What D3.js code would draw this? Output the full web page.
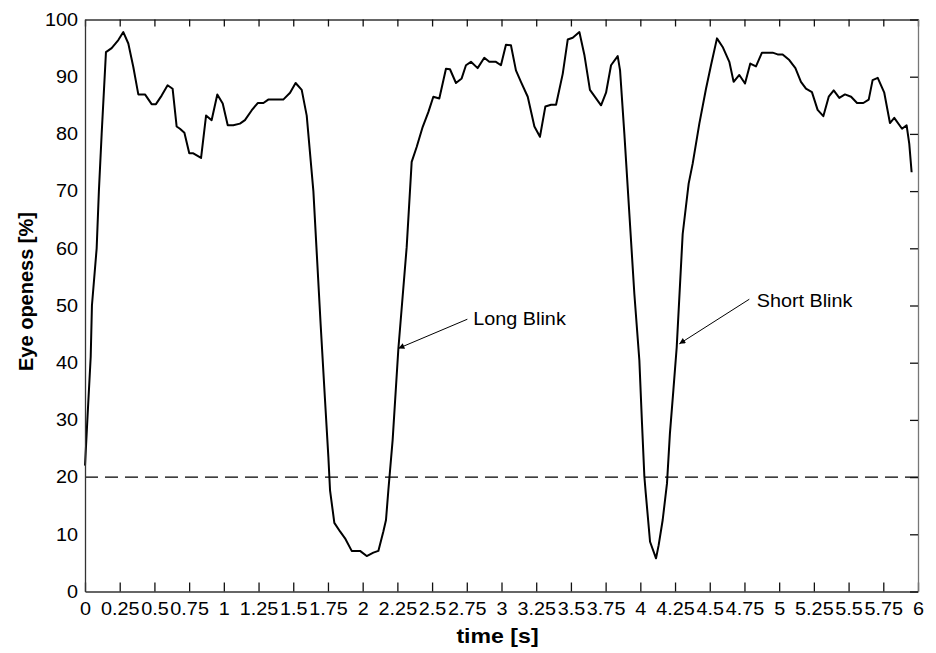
<!DOCTYPE html>
<html>
<head>
<meta charset="utf-8">
<script src="https://cdn.jsdelivr.net/npm/d3@7"></script>
<style>
  html, body { margin: 0; padding: 0; background: #fff; }
  svg { display: block; }
  text { font-family: "Liberation Sans", Arial, Helvetica, sans-serif; fill: #000; }
</style>
</head>
<body>
<svg id="chart" width="936" height="653"></svg>
<script>
// ---- data ----
const timeS = [
  0, 0.017, 0.041, 0.05, 0.084, 0.10, 0.12, 0.151, 0.192, 0.24, 0.276, 0.312, 0.348, 0.384, 0.432,
  0.48, 0.511, 0.552, 0.595, 0.631, 0.66, 0.684, 0.716, 0.751, 0.78, 0.836, 0.872, 0.912, 0.953,
  0.992, 1.028, 1.068, 1.116, 1.152, 1.2, 1.244, 1.285, 1.32, 1.428, 1.477, 1.517, 1.561, 1.597,
  1.645, 1.697, 1.729, 1.753, 1.765, 1.796, 1.837, 1.873, 1.921, 1.981, 2.029, 2.077, 2.113,
  2.149, 2.168, 2.185, 2.216, 2.257, 2.317, 2.353, 2.389, 2.432, 2.473, 2.509, 2.552, 2.6, 2.629,
  2.672, 2.713, 2.744, 2.78, 2.828, 2.876, 2.912, 2.96, 2.996, 3.032, 3.068, 3.104, 3.14, 3.189,
  3.237, 3.277, 3.316, 3.357, 3.393, 3.441, 3.477, 3.513, 3.561, 3.597, 3.637, 3.681, 3.717,
  3.753, 3.789, 3.837, 3.854, 3.885, 3.921, 3.957, 3.993, 4.012, 4.029, 4.039, 4.07, 4.113,
  4.132, 4.161, 4.192, 4.213, 4.238, 4.262, 4.305, 4.348, 4.377, 4.425, 4.473, 4.509, 4.552,
  4.593, 4.641, 4.672, 4.713, 4.754, 4.792, 4.833, 4.876, 4.953, 4.989, 5.025, 5.073, 5.117,
  5.157, 5.193, 5.236, 5.277, 5.318, 5.357, 5.393, 5.433, 5.474, 5.518, 5.561, 5.606, 5.645,
  5.673, 5.71, 5.757, 5.798, 5.829, 5.885, 5.918, 5.937, 5.954
];
const openness = [
  22, 30, 41, 50, 60, 70, 80, 94.3, 95.0, 96.4, 97.8, 95.8, 91.7, 86.9, 86.9,
  85.2, 85.2, 86.7, 88.5, 87.9, 81.3, 80.9, 80.2, 76.6, 76.6, 75.8, 83.2, 82.4, 86.9,
  85.3, 81.5, 81.5, 81.8, 82.4, 84.1, 85.4, 85.4, 86.0, 86.0, 87.2, 88.9, 87.7, 83.2,
  70, 46.8, 33.4, 23.5, 17.7, 12.0, 10.5, 9.3, 7.1, 7.1, 6.2, 6.8, 7.1,
  10.5, 12.5, 17.7, 26.5, 42.4, 60.2, 75.1, 77.7, 81.2, 83.8, 86.5, 86.2, 91.4, 91.3,
  88.9, 89.7, 92.0, 92.6, 91.5, 93.3, 92.6, 92.6, 92.0, 95.6, 95.5, 91.1, 89.1, 86.5,
  81.3, 79.5, 84.8, 85.1, 85.1, 90.5, 96.5, 96.8, 97.8, 93.8, 87.7, 86.2, 85.0,
  87.2, 92.0, 93.6, 91.1, 80.0, 66.0, 52.0, 40.4, 29.4, 20.1, 17.2, 8.7, 5.8,
  8.1, 12.5, 18.9, 27.6, 35.2, 42.7, 62.5, 71.3, 74.8, 81.8, 87.9, 92.0, 96.7,
  95.2, 92.6, 89.1, 90.3, 88.8, 92.3, 91.8, 94.2, 94.2, 93.9, 93.9, 92.9, 91.5,
  89.1, 87.9, 87.3, 84.2, 83.1, 86.5, 87.6, 86.3, 86.9, 86.5, 85.4, 85.4, 86.0,
  89.4, 89.8, 87.2, 81.9, 82.8, 80.9, 81.5, 78.3, 73.3
];
const xTicks = [0, 0.25, 0.5, 0.75, 1, 1.25, 1.5, 1.75, 2, 2.25, 2.5, 2.75, 3, 3.25, 3.5, 3.75,
                4, 4.25, 4.5, 4.75, 5, 5.25, 5.5, 5.75, 6];
const yTicks = [0, 10, 20, 30, 40, 50, 60, 70, 80, 90, 100];
const threshold = 20;
const annotLabels = ["Long Blink", "Short Blink"];
const annotTip = [[2.257, 42.5], [4.281, 43.3]];      // [time, openness] arrow tip
const annotTail = [[2.754, 47.6], [4.785, 51.1]];     // arrow tail
const annotText = [[2.797, 46.6], [4.838, 49.7]];     // text anchor (baseline)
const xTitle = "time [s]";
const yTitle = "Eye openess [%]";

// ---- layout ----
const svg = d3.select("#chart");
const L = 85, R = 918, T = 19.5, B = 591.5;
const x = d3.scaleLinear().domain([0, 6]).range([L, R]);
const y = d3.scaleLinear().domain([0, 100]).range([B, T]);
const STRETCH = 1.1; // reference glyphs are slightly wider than Liberation Sans

function widen(sel) {
  sel.each(function () {
    const w = this.getComputedTextLength();
    d3.select(this).attr("textLength", w * STRETCH).attr("lengthAdjust", "spacingAndGlyphs");
  });
}

// defs: arrowhead
svg.append("defs").append("marker")
  .attr("id", "arrow").attr("viewBox", "0 0 10 10")
  .attr("refX", 10).attr("refY", 5)
  .attr("markerWidth", 9).attr("markerHeight", 6)
  .attr("markerUnits", "userSpaceOnUse")
  .attr("orient", "auto")
  .append("path").attr("d", "M0,0 L10,5 L0,10 z").attr("fill", "#000");

// dashed threshold
svg.append("line")
  .attr("x1", x(0)).attr("x2", x(6))
  .attr("y1", y(threshold)).attr("y2", y(threshold))
  .attr("stroke", "#000").attr("stroke-width", 1.4)
  .attr("stroke-dasharray", "13,7");

// curve
const data = timeS.map((t, i) => [t, openness[i]]);
svg.append("path")
  .datum(data)
  .attr("fill", "none").attr("stroke", "#000").attr("stroke-width", 2)
  .attr("stroke-linejoin", "round")
  .attr("d", d3.line().x(d => x(d[0])).y(d => y(d[1])));

const axisColor = "#333";
const gB = svg.append("g").attr("transform", `translate(0,${B})`)
  .call(d3.axisBottom(x).tickValues(xTicks).tickSizeInner(-9).tickSizeOuter(0).tickPadding(20)
        .tickFormat(d => d3.format("~g")(d)));
gB.select(".domain").attr("stroke", axisColor).attr("stroke-width", 1.3);
gB.selectAll(".tick line").attr("stroke", "#111").attr("stroke-width", 1.3);
gB.selectAll(".tick text").attr("font-size", 18).attr("dy", 0).attr("y", 23.5)
  .attr("font-family", "Liberation Sans, Arial, sans-serif").attr("fill", "#000")
  .call(widen);

const gT = svg.append("g").attr("transform", `translate(0,${T})`)
  .call(d3.axisTop(x).tickValues(xTicks).tickSizeInner(-7).tickSizeOuter(0).tickFormat(""));
gT.select(".domain").attr("stroke", axisColor).attr("stroke-width", 1.3);
gT.selectAll(".tick line").attr("stroke", "#111").attr("stroke-width", 1.3);

const gR = svg.append("g").attr("transform", `translate(${R},0)`)
  .call(d3.axisRight(y).tickValues(yTicks).tickSizeInner(-8).tickSizeOuter(0).tickFormat(""));
gR.select(".domain").attr("stroke", "#777").attr("stroke-width", 1.3);
gR.selectAll(".tick line").attr("stroke", "#111").attr("stroke-width", 1.3);

const gL = svg.append("g").attr("transform", `translate(${L},0)`)
  .call(d3.axisLeft(y).tickValues(yTicks).tickSize(0).tickPadding(7).tickFormat(d3.format("d")));
gL.select(".domain").attr("stroke", axisColor).attr("stroke-width", 1.3);
gL.selectAll(".tick text").attr("font-size", 18)
  .attr("font-family", "Liberation Sans, Arial, sans-serif").attr("fill", "#000")
  .call(widen);

// titles
svg.append("text")
  .attr("x", (L + R) / 2 - 4).attr("y", 643)
  .attr("text-anchor", "middle").attr("font-size", 21).attr("font-weight", "bold")
  .text(xTitle).call(widen);
svg.append("text")
  .attr("transform", `translate(33,${(T + B) / 2 - 14}) rotate(-90)`)
  .attr("text-anchor", "middle").attr("font-size", 20).attr("font-weight", "bold")
  .text(yTitle);

// annotations
annotLabels.forEach((lab, i) => {
  svg.append("line")
    .attr("x1", x(annotTail[i][0])).attr("y1", y(annotTail[i][1]))
    .attr("x2", x(annotTip[i][0])).attr("y2", y(annotTip[i][1]))
    .attr("stroke", "#000").attr("stroke-width", 1)
    .attr("marker-end", "url(#arrow)");
  svg.append("text")
    .attr("x", x(annotText[i][0])).attr("y", y(annotText[i][1]))
    .attr("font-size", 18)
    .text(lab).call(widen);
});
</script>
</body>
</html>
